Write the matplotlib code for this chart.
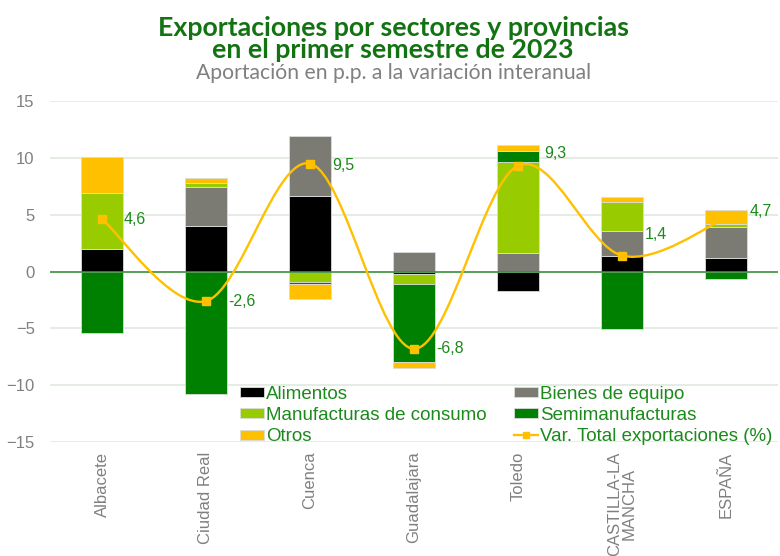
import matplotlib.pyplot as plt
from matplotlib.path import Path
from matplotlib.patches import PathPatch
from matplotlib.lines import Line2D
import numpy as np

# datos (aportacion en p.p.)
provincias = ['Albacete', 'Ciudad Real', 'Cuenca', 'Guadalajara', 'Toledo',
              'CASTILLA-LA\nMANCHA', 'ESPAÑA']
alimentos = [2.0, 4.0, 6.6, -0.2, -1.75, 1.35, 1.15]
bienes_equipo = [0.0, 3.4, 5.35, 1.7, 1.6, 2.2, 2.8]
manufacturas = [4.9, 0.4, -0.95, -0.9, 8.05, 2.55, 0.2]
semimanufacturas = [-5.4, -10.8, -0.15, -6.85, 0.95, -5.1, -0.7]
otros = [3.15, 0.4, -1.3, -0.5, 0.5, 0.45, 1.25]
var_total = [4.6, -2.6, 9.5, -6.8, 9.3, 1.4, 4.7]

series = [('Alimentos', alimentos, '#000000'),
          ('Bienes de equipo', bienes_equipo, '#7b7b73'),
          ('Manufacturas de consumo', manufacturas, '#99cc00'),
          ('Semimanufacturas', semimanufacturas, '#008000'),
          ('Otros', otros, '#ffc000')]

verde = '#1b8a1b'
gris = '#808080'
amarillo = '#ffc000'

# desplazamiento de las etiquetas (pixeles)
off_etq = [(22, 0), (22, 0), (22, -2), (22, 0), (26, 12), (23, 21), (24, 7)]

plt.rcParams['font.family'] = ['Liberation Sans', 'DejaVu Sans']

fig = plt.figure(figsize=(7.8, 5.56), dpi=100)
ax = fig.add_axes([50 / 780, 1 - 442 / 556, 728 / 780, 341 / 556])

x = np.arange(len(provincias))
pos = np.zeros(len(x))
neg = np.zeros(len(x))
handles = {}
for nombre, vals, col in series:
    v = np.array(vals)
    base = np.where(v >= 0, pos, neg)
    b = ax.bar(x, v, 0.4, bottom=base, color=col, edgecolor='#dcdcdc',
               linewidth=0.6, zorder=2, label=nombre)
    handles[nombre] = b
    pos = pos + np.where(v >= 0, v, 0)
    neg = neg + np.where(v < 0, v, 0)

# linea suavizada (tipo Excel) a traves de los puntos
pts = np.column_stack([x, var_total]).astype(float)
ext = np.vstack([pts[0], pts, pts[-1]])
verts = [tuple(pts[0])]
codes = [Path.MOVETO]
for i in range(len(pts) - 1):
    p0, p1, p2, p3 = ext[i], ext[i + 1], ext[i + 2], ext[i + 3]
    c1 = p1 + (p2 - p0) / 6
    c2 = p2 - (p3 - p1) / 6
    verts += [tuple(c1), tuple(c2), tuple(p2)]
    codes += [Path.CURVE4] * 3
ax.add_patch(PathPatch(Path(verts, codes), facecolor='none', edgecolor=amarillo,
                       lw=1.7, zorder=4))
ax.plot(x, var_total, ls='none', marker='s', ms=6, color=amarillo, zorder=5)
for xi, yi, off in zip(x, var_total, off_etq):
    ax.annotate(f'{yi:.1f}'.replace('.', ','), (xi, yi), xytext=off,
                textcoords='offset pixels', ha='left', va='center',
                color=verde, fontsize=11.5, zorder=6)

ax.set_xlim(-0.5, 6.5)
ax.set_ylim(-15, 15)
ax.set_yticks([-15, -10, -5, 0, 5, 10, 15])
for yv in [-15, -10, -5, 5, 10, 15]:
    ax.axhline(yv, color='#e2ebe2', lw=1.3, zorder=0)
ax.axhline(0, color='#3a8f3a', lw=1.2, zorder=3)
for s in ax.spines.values():
    s.set_visible(False)
ax.tick_params(length=0)
ax.tick_params(axis='y', labelsize=12, labelcolor=gris, pad=11)
ax.set_xticks(x)
ax.set_xticklabels(provincias, rotation=90, fontsize=12, color=gris,
                   linespacing=0.95)
ax.tick_params(axis='x', pad=7)

linea = Line2D([], [], color=amarillo, lw=1.7, marker='s', ms=5)
orden = [handles['Alimentos'], handles['Manufacturas de consumo'], handles['Otros'],
         handles['Bienes de equipo'], handles['Semimanufacturas'], linea]
etiquetas = ['Alimentos', 'Manufacturas de consumo', 'Otros',
             'Bienes de equipo', 'Semimanufacturas', 'Var. Total exportaciones (%)']
leg = fig.legend(orden, etiquetas, ncol=2, loc='upper left',
                 bbox_to_anchor=(240 / 780, 1 - 386 / 556), frameon=False,
                 fontsize=13.5, handlelength=1.3, handleheight=0.45,
                 handletextpad=0.1, columnspacing=1.45, labelspacing=0.22,
                 borderpad=0, borderaxespad=0)
for t in leg.get_texts():
    t.set_color(verde)

fig.text(0.504, 1 - 28 / 556, 'Exportaciones por sectores y provincias',
         ha='center', va='center', fontsize=19.3, fontweight='bold', color='#137313',
         family='Lato')
fig.text(0.504, 1 - 50 / 556, 'en el primer semestre de 2023',
         ha='center', va='center', fontsize=19.3, fontweight='bold', color='#137313',
         family='Lato')
fig.text(0.504, 1 - 73 / 556, 'Aportación en p.p. a la variación interanual',
         ha='center', va='center', fontsize=15.2, color=gris, family='Lato')

fig.savefig('out.png', dpi=100)
